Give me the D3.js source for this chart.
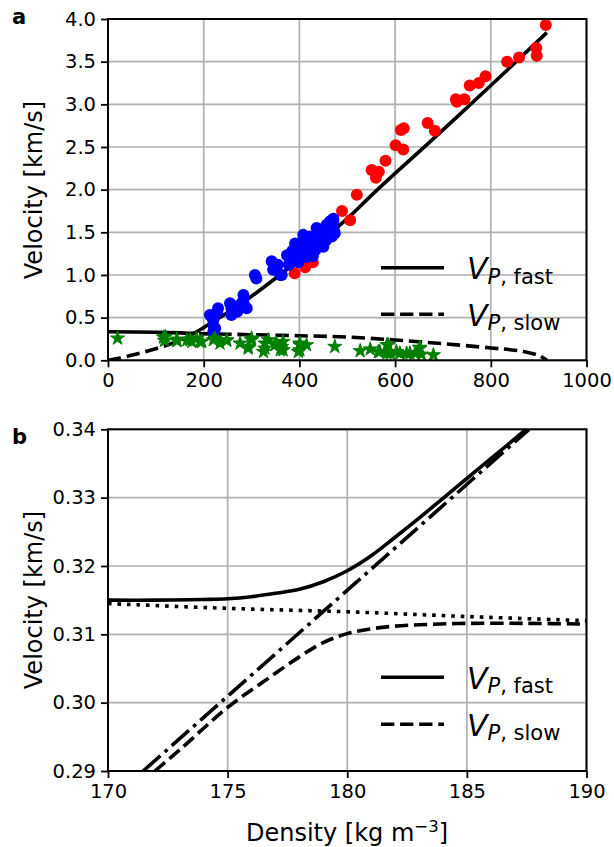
<!DOCTYPE html>
<html><head><meta charset="utf-8">
<script src="https://cdn.jsdelivr.net/npm/d3@7/dist/d3.min.js"></script>
<style>body{margin:0;background:#fff}svg{display:block;font-family:"DejaVu Sans",sans-serif}</style>
</head><body><svg id="c" width="614" height="847"></svg>
<script>
// ---------- Panel a data ----------
const aXTicks = [0, 200, 400, 600, 800, 1000];
const aYTicks = [0, 0.5, 1.0, 1.5, 2.0, 2.5, 3.0, 3.5, 4.0];
const fastA_d = [0, 100, 150, 175, 180, 185, 190, 200, 213, 250, 300, 350, 400, 450, 500, 550, 600, 700, 800, 917];
const fastA_v = [0.335, 0.328, 0.321, 0.316, 0.319, 0.333, 0.35, 0.383, 0.43, 0.56, 0.75, 0.96, 1.18, 1.42, 1.66, 1.93, 2.19, 2.70, 3.22, 3.84];
const slowA_d = [0, 20, 60, 100, 130, 150, 165, 175, 180, 190, 250, 300, 400, 500, 600, 700, 800, 850, 880, 900, 917];
const slowA_v = [0, 0.02, 0.075, 0.135, 0.19, 0.23, 0.268, 0.299, 0.31, 0.311, 0.306, 0.300, 0.288, 0.272, 0.238, 0.195, 0.145, 0.118, 0.088, 0.058, 0];
const redD = [390, 412, 428, 489, 506, 520, 551, 560, 566, 580, 601, 612, 618, 617, 668, 683, 727, 729, 745, 756, 775, 789, 834, 859, 895, 896, 915];
const redV = [1.02, 1.09, 1.15, 1.75, 1.64, 1.94, 2.23, 2.14, 2.21, 2.34, 2.52, 2.70, 2.72, 2.47, 2.78, 2.69, 3.06, 3.03, 3.06, 3.22, 3.25, 3.33, 3.50, 3.55, 3.66, 3.57, 3.93];
const blueD = [221, 220, 221, 224, 220, 213, 217, 230, 228, 255, 258, 258, 265, 283, 286, 283, 290, 278, 270, 307, 310, 342, 345, 349, 360, 363, 355, 374, 380, 391, 394, 394, 400, 405, 408, 408, 415, 418, 422, 425, 430, 433, 436, 438, 443, 446, 450, 452, 457, 460, 464, 468, 471, 472, 474, 471, 385, 398, 412, 428, 440, 455, 378, 390];
const blueV = [0.30, 0.335, 0.39, 0.375, 0.47, 0.53, 0.51, 0.61, 0.56, 0.67, 0.53, 0.61, 0.63, 0.71, 0.63, 0.765, 0.61, 0.66, 0.57, 1.0, 0.96, 1.16, 1.06, 1.08, 1.0, 1.0, 1.12, 1.23, 1.18, 1.37, 1.33, 1.20, 1.28, 1.25, 1.41, 1.47, 1.21, 1.35, 1.45, 1.38, 1.30, 1.29, 1.55, 1.42, 1.53, 1.45, 1.33, 1.48, 1.59, 1.52, 1.63, 1.45, 1.63, 1.53, 1.49, 1.66, 1.28, 1.15, 1.30, 1.22, 1.38, 1.40, 1.12, 1.24];
const greenD = [20, 116, 118, 120, 144, 144, 165, 171, 175, 185, 192, 196, 220, 224, 234, 248, 248, 276, 293, 293, 300, 300, 325, 328, 328, 335, 349, 352, 360, 363, 366, 366, 398, 401, 401, 401, 415, 474, 527, 548, 565, 568, 583, 586, 583, 590, 603, 610, 624, 631, 642, 651, 652, 655, 680];
const greenV = [0.258, 0.27, 0.23, 0.277, 0.246, 0.226, 0.238, 0.238, 0.218, 0.258, 0.218, 0.218, 0.238, 0.258, 0.199, 0.23, 0.238, 0.199, 0.16, 0.14, 0.238, 0.258, 0.1, 0.14, 0.199, 0.238, 0.18, 0.199, 0.12, 0.16, 0.218, 0.12, 0.1, 0.199, 0.18, 0.12, 0.18, 0.16, 0.11, 0.13, 0.1, 0.1, 0.18, 0.18, 0.082, 0.08, 0.1, 0.082, 0.082, 0.082, 0.082, 0.15, 0.14, 0.07, 0.062];

// ---------- Panel b data ----------
const bXTicks = [170, 175, 180, 185, 190];
const bYTicks = [0.29, 0.30, 0.31, 0.32, 0.33, 0.34];
const fastB_d = [170, 172, 174, 175, 176, 177, 178, 179, 180, 181, 182, 183, 184, 185, 186, 187, 187.5];
const fastB_v = [0.3150, 0.3150, 0.3151, 0.3152, 0.3155, 0.3160, 0.3166, 0.3177, 0.3193, 0.3215, 0.3242, 0.3270, 0.3299, 0.3328, 0.3357, 0.3386, 0.3401];
const slowB_d = [171.96, 173, 175, 176.63, 178, 179, 180, 181, 182, 183, 185, 187.5, 190];
const slowB_v = [0.290, 0.2931, 0.2993, 0.3034, 0.3067, 0.3088, 0.3101, 0.3108, 0.3112, 0.3114, 0.3116, 0.3116, 0.3115];
const dotB_d = [170, 175, 180, 185, 190];
const dotB_v = [0.3145, 0.3138, 0.3133, 0.3126, 0.3120];
const dashDotB_d = [171.47, 187.6];
const dashDotB_v = [0.290, 0.340];

const svg = d3.select("#c");
const LW = 3.6;
const DASH = [3.7 * LW, 1.6 * LW];
const DOT = [1 * LW, 1.65 * LW];
const DASHDOT = [6.4 * LW, 1.6 * LW, 1 * LW, 1.6 * LW];

function panel(opts) {
  const {x, y, xTicks, yTicks, id} = opts;
  const g = svg.append("g");
  const [x0, x1] = x.range(), [y0, y1] = y.range();
  g.append("clipPath").attr("id", id).append("rect")
    .attr("x", x0).attr("y", y1).attr("width", x1 - x0).attr("height", y0 - y1);
  g.append("g").selectAll("line").data(xTicks).join("line")
    .attr("x1", d => x(d)).attr("x2", d => x(d)).attr("y1", y0).attr("y2", y1)
    .attr("stroke", "#b0b0b0").attr("stroke-width", 1.7);
  g.append("g").selectAll("line").data(yTicks).join("line")
    .attr("y1", d => y(d)).attr("y2", d => y(d)).attr("x1", x0).attr("x2", x1)
    .attr("stroke", "#b0b0b0").attr("stroke-width", 1.7);
  return g;
}

function frame(g, opts) {
  const {x, y, xTicks, yTicks, xFmt, yFmt} = opts;
  const [x0, x1] = x.range(), [y0, y1] = y.range();
  g.append("rect").attr("x", x0).attr("y", y1).attr("width", x1 - x0).attr("height", y0 - y1)
    .attr("fill", "none").attr("stroke", "#000").attr("stroke-width", 2);
  const xa = d3.axisBottom(x).tickValues(xTicks).tickFormat(xFmt).tickSizeOuter(0).tickSize(7).tickPadding(6);
  const ya = d3.axisLeft(y).tickValues(yTicks).tickFormat(yFmt).tickSizeOuter(0).tickSize(7).tickPadding(5);
  const gx = g.append("g").attr("transform", `translate(0,${y0})`).call(xa);
  const gy = g.append("g").attr("transform", `translate(${x0},0)`).call(ya);
  [gx, gy].forEach(a => {
    a.select(".domain").remove();
    a.selectAll(".tick line").attr("stroke", "#000").attr("stroke-width", 1.8);
    a.selectAll(".tick text").attr("fill", "#000").style("font-size", "19.5px").style("font-family", "DejaVu Sans");
  });
}

function drawLine(g, x, y, ds, vs, dash, clipId) {
  const pts = ds.map((d, i) => [d, vs[i]]);
  g.append("path").datum(pts)
    .attr("d", d3.line().x(p => x(p[0])).y(p => y(p[1])).curve(d3.curveCatmullRom.alpha(0.5)))
    .attr("fill", "none").attr("stroke", "#000").attr("stroke-width", LW)
    .attr("stroke-dasharray", dash ? dash.join(",") : null)
    .attr("clip-path", `url(#${clipId})`);
}

function legend(g, lx, ly, sub, dash) {
  g.append("line").attr("x1", lx).attr("x2", lx + 63).attr("y1", ly).attr("y2", ly)
    .attr("stroke", "#000").attr("stroke-width", LW).attr("stroke-dasharray", dash ? dash.join(",") : null);
  const t = g.append("text").attr("x", lx + 86).attr("y", ly + 11.5).attr("fill", "#000");
  t.append("tspan").text("V").style("font-style", "italic").style("font-size", "30px");
  t.append("tspan").attr("dy", 4.5).text("P").style("font-style", "italic").style("font-size", "21px");
  t.append("tspan").text(", " + sub).style("font-size", "21px");
}

// ---------- Panel a ----------
const xA = d3.scaleLinear().domain([0, 1000]).range([108, 586.5]);
const yA = d3.scaleLinear().domain([0, 4]).range([360.3, 19]);
const optsA = {x: xA, y: yA, xTicks: aXTicks, yTicks: aYTicks, xFmt: d3.format("d"), yFmt: d3.format(".1f"), id: "clipA"};
const gA = panel(optsA);
drawLine(gA, xA, yA, fastA_d, fastA_v, null, "clipA");
drawLine(gA, xA, yA, slowA_d, slowA_v, DASH, "clipA");
gA.append("g").selectAll("circle").data(redD).join("circle")
  .attr("cx", (d, i) => xA(d)).attr("cy", (d, i) => yA(redV[i])).attr("r", 6).attr("fill", "#ff0000");
gA.append("g").selectAll("circle").data(blueD).join("circle")
  .attr("cx", (d, i) => xA(d)).attr("cy", (d, i) => yA(blueV[i])).attr("r", 6).attr("fill", "#0000ff");
gA.append("g").selectAll("path").data(greenD).join("path")
  .attr("transform", (d, i) => `translate(${xA(d)},${yA(greenV[i])})`)
  .attr("d", d3.symbol(d3.symbolStar, 62)).attr("fill", "#008000")
  .attr("stroke", "#008000").attr("stroke-width", 1).attr("stroke-linejoin", "round");
frame(gA, optsA);
legend(gA, 381, 267.7, "fast", null);
legend(gA, 381, 314.3, "slow", DASH);

// ---------- Panel b ----------
const xB = d3.scaleLinear().domain([170, 190]).range([108, 586.5]);
const yB = d3.scaleLinear().domain([0.29, 0.34]).range([771, 429.3]);
const optsB = {x: xB, y: yB, xTicks: bXTicks, yTicks: bYTicks, xFmt: d3.format("d"), yFmt: d3.format(".2f"), id: "clipB"};
const gB = panel(optsB);
drawLine(gB, xB, yB, fastB_d, fastB_v, null, "clipB");
drawLine(gB, xB, yB, slowB_d, slowB_v, DASH, "clipB");
drawLine(gB, xB, yB, dotB_d, dotB_v, DOT, "clipB");
drawLine(gB, xB, yB, dashDotB_d, dashDotB_v, DASHDOT, "clipB");
frame(gB, optsB);
legend(gB, 381, 677.3, "fast", null);
legend(gB, 381, 724.3, "slow", DASH);

// ---------- labels ----------
svg.append("text").attr("x", 12).attr("y", 24).text("a").style("font-weight", "bold").style("font-size", "21px");
svg.append("text").attr("x", 12).attr("y", 444).text("b").style("font-weight", "bold").style("font-size", "21px");
svg.append("text").attr("transform", "translate(42,190) rotate(-90)").attr("text-anchor", "middle")
  .style("font-size", "24px").text("Velocity [km/s]");
svg.append("text").attr("transform", "translate(42,600) rotate(-90)").attr("text-anchor", "middle")
  .style("font-size", "24px").text("Velocity [km/s]");
const xl = svg.append("text").attr("x", 347).attr("y", 841).attr("text-anchor", "middle").style("font-size", "24px");
xl.append("tspan").text("Density [kg m");
xl.append("tspan").attr("dy", -9).style("font-size", "16.5px").text("\u22123");
xl.append("tspan").attr("dy", 9).text("]");
</script></body></html>
